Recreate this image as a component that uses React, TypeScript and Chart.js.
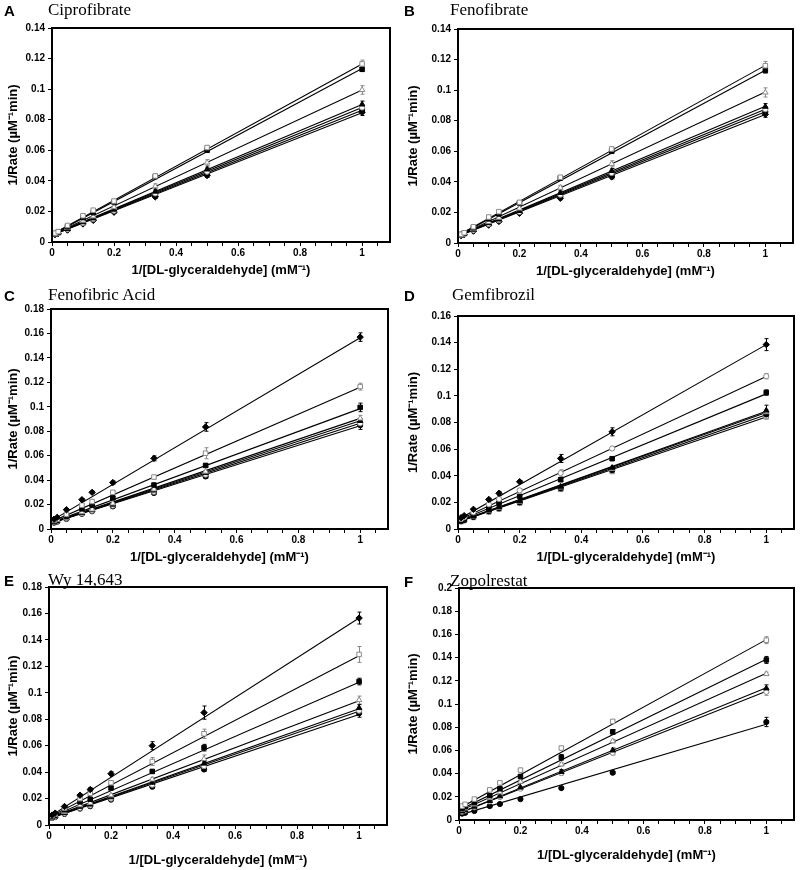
import React, { useEffect, useRef } from 'react';
import { Chart, registerables } from 'chart.js';
Chart.register(...registerables);

// ---------------- data ----------------
const xInv = [0.01, 0.02, 0.05, 0.1, 0.133, 0.2, 0.333, 0.5, 1];
const xTitle = '1/[DL-glyceraldehyde] (mM\u207B\u00B9)';
const yTitle = '1/Rate (\u00B5M\u207B\u00B9min)';

const panelLetters = ['A', 'B', 'C', 'D', 'E', 'F'];
const panelNames = ['Ciprofibrate', 'Fenofibrate', 'Fenofibric Acid', 'Gemfibrozil', 'Wy 14,643', 'Zopolrestat'];
const yMaxes = [0.14, 0.14, 0.18, 0.16, 0.18, 0.2];

const ciproY = [
  [0.0058, 0.0068, 0.0108, 0.0172, 0.0208, 0.0268, 0.0432, 0.0618, 0.1165],
  [0.0055, 0.0065, 0.0100, 0.0160, 0.0192, 0.0262, 0.0428, 0.0600, 0.1130],
  [0.0054, 0.0062, 0.0092, 0.0140, 0.0168, 0.0228, 0.0365, 0.0520, 0.0995],
  [0.0052, 0.0060, 0.0086, 0.0130, 0.0155, 0.0212, 0.0330, 0.0475, 0.0900],
  [0.0051, 0.0058, 0.0083, 0.0125, 0.0150, 0.0205, 0.0318, 0.0460, 0.0880],
  [0.0050, 0.0057, 0.0081, 0.0122, 0.0146, 0.0200, 0.0308, 0.0448, 0.0865],
  [0.0048, 0.0055, 0.0078, 0.0118, 0.0142, 0.0195, 0.0295, 0.0435, 0.0848],
];
const ciproErr = [
  [0, 0, 0.0006, 0.0008, 0.001, 0.0008, 0.0012, 0.0012, 0.0025],
  [0, 0, 0.0005, 0.0006, 0.0008, 0.0008, 0.001, 0.001, 0.0015],
  [0, 0, 0.0005, 0.0008, 0.0008, 0.001, 0.0015, 0.002, 0.0028],
  [0, 0, 0.0004, 0.0006, 0.0006, 0.0008, 0.0012, 0.0015, 0.0022],
  [0, 0, 0.0004, 0.0005, 0.0006, 0.0006, 0.001, 0.001, 0.0018],
  [0, 0, 0.0004, 0.0005, 0.0006, 0.0006, 0.001, 0.001, 0.0015],
  [0, 0, 0.0004, 0.0005, 0.0005, 0.0006, 0.001, 0.0012, 0.002],
];
const ciproFit0 = [0.0050, 0.0048, 0.0047, 0.0046, 0.0046, 0.0045, 0.0044];
const ciproFit1 = [0.1165, 0.1135, 0.0995, 0.0900, 0.0880, 0.0862, 0.0845];

const fenoY = [
  [0.0057, 0.0067, 0.0106, 0.0170, 0.0205, 0.0266, 0.0430, 0.0615, 0.1160],
  [0.0055, 0.0064, 0.0100, 0.0158, 0.0190, 0.0262, 0.0425, 0.0600, 0.1128],
  [0.0054, 0.0062, 0.0090, 0.0138, 0.0166, 0.0226, 0.0362, 0.0518, 0.0985],
  [0.0052, 0.0060, 0.0086, 0.0130, 0.0154, 0.0210, 0.0328, 0.0472, 0.0892],
  [0.0051, 0.0058, 0.0083, 0.0124, 0.0149, 0.0204, 0.0316, 0.0458, 0.0875],
  [0.0050, 0.0057, 0.0080, 0.0121, 0.0145, 0.0199, 0.0306, 0.0445, 0.0858],
  [0.0048, 0.0055, 0.0078, 0.0117, 0.0141, 0.0194, 0.0293, 0.0432, 0.0842],
];
const fenoErr = [
  [0, 0, 0.0006, 0.0008, 0.001, 0.0008, 0.0012, 0.0012, 0.0028],
  [0, 0, 0.0005, 0.0006, 0.0008, 0.0008, 0.001, 0.001, 0.0015],
  [0, 0, 0.0005, 0.0008, 0.0008, 0.001, 0.0015, 0.002, 0.003],
  [0, 0, 0.0004, 0.0006, 0.0006, 0.0008, 0.0012, 0.0015, 0.002],
  [0, 0, 0.0004, 0.0005, 0.0006, 0.0006, 0.001, 0.001, 0.0018],
  [0, 0, 0.0004, 0.0005, 0.0006, 0.0006, 0.001, 0.001, 0.0015],
  [0, 0, 0.0004, 0.0005, 0.0005, 0.0006, 0.001, 0.0012, 0.002],
];
const fenoFit0 = [0.0050, 0.0048, 0.0047, 0.0046, 0.0046, 0.0045, 0.0044];
const fenoFit1 = [0.1162, 0.1130, 0.0988, 0.0895, 0.0875, 0.0858, 0.0840];

const fenoAcidY = [
  [0.0080, 0.0095, 0.0158, 0.0240, 0.0300, 0.0380, 0.0578, 0.0835, 0.1570],
  [0.0070, 0.0080, 0.0120, 0.0195, 0.0225, 0.0300, 0.0425, 0.0620, 0.1165],
  [0.0062, 0.0072, 0.0105, 0.0165, 0.0195, 0.0255, 0.0360, 0.0520, 0.0995],
  [0.0058, 0.0066, 0.0092, 0.0138, 0.0160, 0.0210, 0.0325, 0.0470, 0.0905],
  [0.0056, 0.0064, 0.0088, 0.0132, 0.0155, 0.0200, 0.0315, 0.0458, 0.0885],
  [0.0054, 0.0062, 0.0085, 0.0128, 0.0150, 0.0192, 0.0305, 0.0445, 0.0865],
  [0.0052, 0.0060, 0.0082, 0.0124, 0.0145, 0.0185, 0.0295, 0.0430, 0.0850],
];
const fenoAcidErr = [
  [0, 0, 0.0006, 0.001, 0.001, 0.0012, 0.002, 0.0035, 0.0035],
  [0, 0, 0.0006, 0.001, 0.001, 0.0015, 0.0015, 0.0045, 0.0028],
  [0, 0, 0.0005, 0.0008, 0.0008, 0.001, 0.001, 0.0012, 0.0035],
  [0, 0, 0.0004, 0.0006, 0.0006, 0.0008, 0.001, 0.0012, 0.0025],
  [0, 0, 0.0004, 0.0006, 0.0006, 0.0008, 0.001, 0.0012, 0.002],
  [0, 0, 0.0004, 0.0006, 0.0006, 0.0008, 0.001, 0.0012, 0.003],
  [0, 0, 0.0004, 0.0006, 0.0006, 0.0008, 0.001, 0.0012, 0.0035],
];
const fenoAcidFit0 = [0.0065, 0.0058, 0.0052, 0.0050, 0.0049, 0.0048, 0.0047];
const fenoAcidFit1 = [0.1565, 0.1160, 0.0985, 0.0905, 0.0885, 0.0865, 0.0845];

const gemY = [
  [0.0085, 0.0100, 0.0148, 0.0222, 0.0268, 0.0355, 0.0530, 0.0730, 0.1385],
  [0.0075, 0.0088, 0.0125, 0.0185, 0.0225, 0.0290, 0.0420, 0.0605, 0.1148],
  [0.0068, 0.0078, 0.0110, 0.0162, 0.0195, 0.0245, 0.0370, 0.0528, 0.1025],
  [0.0062, 0.0070, 0.0095, 0.0140, 0.0165, 0.0210, 0.0318, 0.0460, 0.0890],
  [0.0060, 0.0068, 0.0092, 0.0136, 0.0160, 0.0205, 0.0312, 0.0452, 0.0878],
  [0.0058, 0.0066, 0.0090, 0.0133, 0.0155, 0.0200, 0.0305, 0.0442, 0.0860],
  [0.0056, 0.0064, 0.0087, 0.0128, 0.0150, 0.0195, 0.0298, 0.0432, 0.0845],
];
const gemErr = [
  [0, 0, 0.0006, 0.0008, 0.0015, 0.001, 0.003, 0.003, 0.0045],
  [0, 0, 0.0005, 0.0008, 0.0015, 0.001, 0.0025, 0.001, 0.002],
  [0, 0, 0.0005, 0.0006, 0.0006, 0.0008, 0.001, 0.0008, 0.002],
  [0, 0, 0.0004, 0.0006, 0.0006, 0.0008, 0.001, 0.0012, 0.004],
  [0, 0, 0.0004, 0.0006, 0.0006, 0.0008, 0.001, 0.001, 0.002],
  [0, 0, 0.0004, 0.0006, 0.0006, 0.0008, 0.001, 0.001, 0.0015],
  [0, 0, 0.0004, 0.0006, 0.0006, 0.0008, 0.001, 0.001, 0.002],
];
const gemFit0 = [0.0070, 0.0065, 0.0060, 0.0055, 0.0054, 0.0053, 0.0052];
const gemFit1 = [0.1385, 0.1145, 0.1015, 0.0885, 0.0875, 0.0858, 0.0842];

const wyY = [
  [0.0075, 0.0090, 0.0140, 0.0225, 0.0268, 0.0388, 0.0600, 0.0850, 0.1565],
  [0.0070, 0.0082, 0.0128, 0.0200, 0.0240, 0.0320, 0.0480, 0.0690, 0.1290],
  [0.0065, 0.0075, 0.0115, 0.0175, 0.0195, 0.0280, 0.0405, 0.0585, 0.1085],
  [0.0060, 0.0068, 0.0100, 0.0150, 0.0168, 0.0225, 0.0345, 0.0500, 0.0945],
  [0.0057, 0.0065, 0.0092, 0.0138, 0.0155, 0.0210, 0.0320, 0.0465, 0.0885],
  [0.0055, 0.0062, 0.0088, 0.0130, 0.0148, 0.0200, 0.0305, 0.0445, 0.0865],
  [0.0053, 0.0060, 0.0084, 0.0124, 0.0142, 0.0192, 0.0290, 0.0420, 0.0845],
];
const wyErr = [
  [0, 0, 0.0008, 0.001, 0.0015, 0.0015, 0.003, 0.005, 0.0045],
  [0, 0, 0.0006, 0.001, 0.001, 0.0015, 0.003, 0.0035, 0.006],
  [0, 0, 0.0005, 0.0008, 0.0008, 0.001, 0.0012, 0.0025, 0.0025],
  [0, 0, 0.0005, 0.0006, 0.0008, 0.001, 0.0015, 0.003, 0.003],
  [0, 0, 0.0004, 0.0006, 0.0006, 0.0008, 0.0015, 0.0015, 0.0025],
  [0, 0, 0.0004, 0.0006, 0.0006, 0.0008, 0.0015, 0.0015, 0.002],
  [0, 0, 0.0004, 0.0006, 0.0006, 0.0008, 0.0015, 0.0015, 0.003],
];
const wyFit0 = [0.0060, 0.0058, 0.0055, 0.0052, 0.0050, 0.0049, 0.0048];
const wyFit1 = [0.1565, 0.1280, 0.1080, 0.0940, 0.0880, 0.0860, 0.0835];

const zopoY = [
  [0.0120, 0.0135, 0.0180, 0.0260, 0.0320, 0.0430, 0.0620, 0.0850, 0.1550],
  [0.0100, 0.0115, 0.0150, 0.0210, 0.0270, 0.0375, 0.0540, 0.0760, 0.1380],
  [0.0090, 0.0100, 0.0135, 0.0190, 0.0240, 0.0330, 0.0480, 0.0680, 0.1260],
  [0.0075, 0.0085, 0.0115, 0.0165, 0.0205, 0.0280, 0.0415, 0.0600, 0.1135],
  [0.0072, 0.0082, 0.0110, 0.0160, 0.0198, 0.0270, 0.0405, 0.0580, 0.1105],
  [0.0055, 0.0062, 0.0078, 0.0120, 0.0138, 0.0180, 0.0275, 0.0408, 0.0845],
];
const zopoErr = [
  [0, 0, 0.0006, 0.001, 0.0012, 0.0015, 0.0015, 0.0012, 0.003],
  [0, 0, 0.0005, 0.001, 0.001, 0.0015, 0.0025, 0.002, 0.003],
  [0, 0, 0.0005, 0.0008, 0.0008, 0.001, 0.0015, 0.0015, 0.0015],
  [0, 0, 0.0004, 0.0006, 0.0008, 0.001, 0.002, 0.002, 0.003],
  [0, 0, 0.0004, 0.0006, 0.0008, 0.001, 0.002, 0.002, 0.003],
  [0, 0, 0.0004, 0.0005, 0.0005, 0.0006, 0.0008, 0.001, 0.004],
];
const zopoFit0 = [0.0100, 0.0085, 0.0075, 0.0060, 0.0058, 0.0042];
const zopoFit1 = [0.1555, 0.1385, 0.1265, 0.1140, 0.1110, 0.0825];

// ---------------- styles ----------------
const GRAY = '#8a8a8a';
type Mk = { style: string; open: boolean };
const SQO: Mk = { style: 'rect', open: true };
const SQF: Mk = { style: 'rect', open: false };
const TRO: Mk = { style: 'triangle', open: true };
const TRF: Mk = { style: 'triangle', open: false };
const CIO: Mk = { style: 'circle', open: true };
const CIF: Mk = { style: 'circle', open: false };
const DIF: Mk = { style: 'rectRot', open: false };

const PANELS = [
  { y: ciproY, err: ciproErr, f0: ciproFit0, f1: ciproFit1, mk: [SQO, SQF, TRO, TRF, CIO, CIF, DIF],
    cx: 0, cy: 0, w: 400, h: 285, L: 52, T: 28, R: 390, B: 242, titleY: 270 },
  { y: fenoY, err: fenoErr, f0: fenoFit0, f1: fenoFit1, mk: [SQO, SQF, TRO, TRF, CIO, CIF, DIF],
    cx: 400, cy: 0, w: 400, h: 285, L: 458, T: 29, R: 793, B: 243, titleY: 271 },
  { y: fenoAcidY, err: fenoAcidErr, f0: fenoAcidFit0, f1: fenoAcidFit1, mk: [DIF, SQO, SQF, TRO, TRF, CIO, CIF],
    cx: 0, cy: 285, w: 400, h: 285, L: 51, T: 309, R: 388, B: 529, titleY: 557 },
  { y: gemY, err: gemErr, f0: gemFit0, f1: gemFit1, mk: [DIF, CIO, SQF, TRF, TRO, CIF, SQO],
    cx: 400, cy: 285, w: 400, h: 285, L: 458, T: 316, R: 794, B: 529, titleY: 557 },
  { y: wyY, err: wyErr, f0: wyFit0, f1: wyFit1, mk: [DIF, SQO, SQF, TRO, TRF, CIO, CIF],
    cx: 0, cy: 570, w: 400, h: 300, L: 49, T: 587, R: 387, B: 825, titleY: 860 },
  { y: zopoY, err: zopoErr, f0: zopoFit0, f1: zopoFit1, mk: [SQO, SQF, TRO, TRF, CIO, CIF],
    cx: 400, cy: 570, w: 400, h: 300, L: 459, T: 588, R: 794, B: 820, titleY: 855 },
];

const LABEL_POS = [
  { lx: 4, ly: 3, tx: 48, ty: 1 },
  { lx: 404, ly: 3, tx: 450, ty: 1 },
  { lx: 4, ly: 288, tx: 48, ty: 286 },
  { lx: 404, ly: 288, tx: 452, ty: 286 },
  { lx: 4, ly: 573, tx: 48, ty: 571 },
  { lx: 404, ly: 574, tx: 450, ty: 572 },
];

const TICK_FONT = { family: "'Liberation Sans', Arial, sans-serif", size: 10, weight: 'bold' as const };
const TITLE_SIZE = 13;
const TITLE_FONT = { family: "'Liberation Sans', Arial, sans-serif", size: TITLE_SIZE, weight: 'bold' as const };

const near = (v: number, step: number) => Math.abs(v / step - Math.round(v / step)) < 1e-6;

const errPlugin = {
  id: 'errbars',
  beforeDatasetsDraw(chart: any) {
    const ctx = chart.ctx;
    const ys = chart.scales.y;
    chart.data.datasets.forEach((ds: any, di: number) => {
      if (!ds.err) return;
      const meta = chart.getDatasetMeta(di);
      ctx.save();
      ctx.strokeStyle = ds.errColor;
      ctx.lineWidth = 1;
      meta.data.forEach((pt: any, i: number) => {
        const e = ds.err[i];
        if (!e) return;
        const yv = ds.data[i].y;
        const y1 = ys.getPixelForValue(yv + e);
        const y2 = ys.getPixelForValue(yv - e);
        const x = Math.round(pt.x) + 0.5;
        ctx.beginPath();
        ctx.moveTo(x, y1); ctx.lineTo(x, y2);
        ctx.moveTo(x - 2, y1); ctx.lineTo(x + 2, y1);
        ctx.moveTo(x - 2, y2); ctx.lineTo(x + 2, y2);
        ctx.stroke();
      });
      ctx.restore();
    });
  },
};

const framePlugin = {
  id: 'frame',
  afterDraw(chart: any) {
    const { ctx, chartArea: a } = chart;
    ctx.save();
    ctx.strokeStyle = '#000';
    ctx.lineWidth = 2;
    ctx.strokeRect(a.left, a.top, a.right - a.left, a.bottom - a.top);
    ctx.restore();
  },
};

function Panel({ idx }: { idx: number }) {
  const ref = useRef<HTMLCanvasElement>(null);
  const p = PANELS[idx];
  useEffect(() => {
    const datasets: any[] = [];
    p.y.forEach((ys, si) => {
      const mk = p.mk[si];
      datasets.push({
        type: 'scatter',
        data: xInv.map((x, i) => ({ x, y: ys[i] })),
        err: p.err[si],
        errColor: mk.open ? GRAY : '#000',
        pointStyle: mk.style,
        pointRadius: mk.style === 'circle' ? 2.6 : 3.2,
        pointBackgroundColor: mk.open ? '#fff' : '#000',
        pointBorderColor: mk.open ? GRAY : '#000',
        pointBorderWidth: 1,
        showLine: false,
        order: 0,
      });
    });
    p.y.forEach((_, si) => {
      datasets.push({
        type: 'line',
        data: [{ x: 0, y: p.f0[si] }, { x: 1, y: p.f1[si] }],
        borderColor: '#000',
        borderWidth: 1.1,
        pointRadius: 0,
        fill: false,
        order: 1,
      });
    });
    const W = p.L - p.cx;
    const H = p.cy + p.h - p.B;
    const yMax = yMaxes[idx];
    const half = (TITLE_SIZE * 1.2) / 2;
    const chart = new Chart(ref.current as HTMLCanvasElement, {
      type: 'scatter',
      data: { datasets },
      plugins: [errPlugin, framePlugin],
      options: {
        animation: false,
        responsive: false,
        devicePixelRatio: 1,
        layout: { padding: { left: 0, top: p.T - p.cy, right: p.cx + p.w - p.R, bottom: 0 } },
        plugins: { legend: { display: false }, tooltip: { enabled: false } },
        scales: {
          x: {
            type: 'linear', min: 0, max: 1.09,
            afterBuildTicks: (s: any) => {
              const t = [];
              for (let i = 0; i <= 21; i++) t.push({ value: i * 0.05 });
              s.ticks = t;
            },
            afterFit: (s: any) => { s.height = H; },
            ticks: {
              autoSkip: false, maxRotation: 0, color: '#000', font: TICK_FONT, padding: 1,
              callback: (v: any) => (near(Number(v), 0.2) ? String(+Number(v).toFixed(2)) : ''),
            },
            grid: { drawOnChartArea: false, drawTicks: true, tickLength: 4, color: '#000', lineWidth: 1 },
            border: { display: false },
            title: { display: true, text: xTitle, color: '#000', font: TITLE_FONT,
              padding: { top: 0, bottom: Math.max(0, p.cy + p.h - half - p.titleY) } },
          },
          y: {
            type: 'linear', min: 0, max: yMax,
            afterBuildTicks: (s: any) => {
              const t = [];
              const n = Math.round(yMax / 0.02);
              for (let i = 0; i <= n; i++) t.push({ value: i * 0.02 });
              s.ticks = t;
            },
            afterFit: (s: any) => { s.width = W; },
            ticks: {
              autoSkip: false, color: '#000', font: TICK_FONT, padding: 3,
              callback: (v: any) => String(+Number(v).toFixed(3)),
            },
            grid: { drawOnChartArea: false, drawTicks: true, tickLength: 4, color: '#000', lineWidth: 1 },
            border: { display: false },
            title: { display: true, text: yTitle, color: '#000', font: TITLE_FONT, padding: { top: Math.max(0, 13 - half), bottom: 0 } },
          },
        },
      } as any,
    });
    return () => chart.destroy();
  }, [idx]);
  const lp = LABEL_POS[idx];
  return (
    <>
      <canvas ref={ref} width={p.w} height={p.h}
        style={{ position: 'absolute', left: p.cx, top: p.cy, width: p.w, height: p.h }} />
      <div style={{ position: 'absolute', left: lp.lx, top: lp.ly, font: "bold 15px 'Liberation Sans', Arial, sans-serif", lineHeight: 1 }}>
        {panelLetters[idx]}
      </div>
      <div style={{ position: 'absolute', left: lp.tx, top: lp.ty, font: "17px 'Liberation Serif', 'Times New Roman', serif", lineHeight: 1, whiteSpace: 'nowrap' }}>
        {panelNames[idx]}
      </div>
    </>
  );
}

export default function App() {
  return (
    <div style={{ position: 'absolute', left: 0, top: 0, width: 800, height: 870, background: '#fff', overflow: 'hidden' }}>
      {PANELS.map((_, i) => <Panel key={i} idx={i} />)}
    </div>
  );
}
